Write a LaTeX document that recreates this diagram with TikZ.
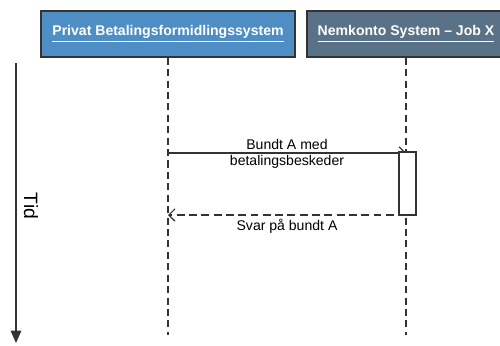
\documentclass[tikz,border=0pt]{standalone}
\usepackage{fontspec}
\setmainfont{Liberation Sans}
\usetikzlibrary{arrows.meta, positioning}
\definecolor{headblue}{RGB}{78, 142, 196}
\definecolor{headslate}{RGB}{90, 114, 136}
\definecolor{inkgray}{RGB}{51, 51, 51}

\begin{document}
\begin{tikzpicture}[x=0.02cm, y=-0.02cm,
    header/.style={draw=inkgray, line width=0.8, text=white, inner sep=0,
                   font=\fontsize{8}{9.5}\selectfont\bfseries, minimum height=0.92cm},
    lifeline/.style={inkgray, line width=0.6, dash pattern=on 4pt off 2.5pt},
    msg/.style={inkgray, line width=0.7, -{Straight Barb[length=3.5pt, width=7pt]}},
    msglabel/.style={font=\fontsize{8}{9}\selectfont, align=center, inner sep=0}]

  \useasboundingbox (0, 0) rectangle (500, 345);

  % headers
  \node[header, fill=headblue, minimum width=5.08cm] (priv) at (168, 34) {\underline{Privat Betalingsformidlingssystem}};
  \node[header, fill=headslate, minimum width=3.96cm] (nemk) at (406, 34) {\underline{Nemkonto System -- Job X}};

  % lifelines
  \coordinate (privend) at (168, 335);
  \coordinate (nemkend) at (406, 335);
  \draw[lifeline] (priv.south) -- (privend);
  \draw[lifeline] (nemk.south) -- (nemkend);

  % time axis
  \coordinate (tstart) at (16, 63);
  \coordinate (tend) at (16, 343);
  \draw[inkgray, line width=0.8, -{Triangle[length=7pt, width=6pt]}] (tstart) -- (tend);
  \node[rotate=-90, font=\fontsize{11}{13}\selectfont] (tid) at (31, 206) {Tid};

  % messages
  \coordinate (m1a) at (168, 153);
  \coordinate (m1b) at (406, 153);
  \coordinate (m2a) at (406, 215);
  \coordinate (m2b) at (168, 215);
  \draw[msg] (m1a) -- (m1b);
  \draw[msg, dash pattern=on 4.5pt off 2.5pt] (m2a) -- (m2b);
  \node[draw=inkgray, fill=white, line width=0.8, minimum width=0.34cm, minimum height=1.26cm, inner sep=0] (act) at (407.5, 183.5) {};

  \node[msglabel] (lab1) at (287, 154) {Bundt A med\\betalingsbeskeder};
  \node[msglabel] (lab2) at (287, 226) {Svar på bundt A};

\end{tikzpicture}
\end{document}
